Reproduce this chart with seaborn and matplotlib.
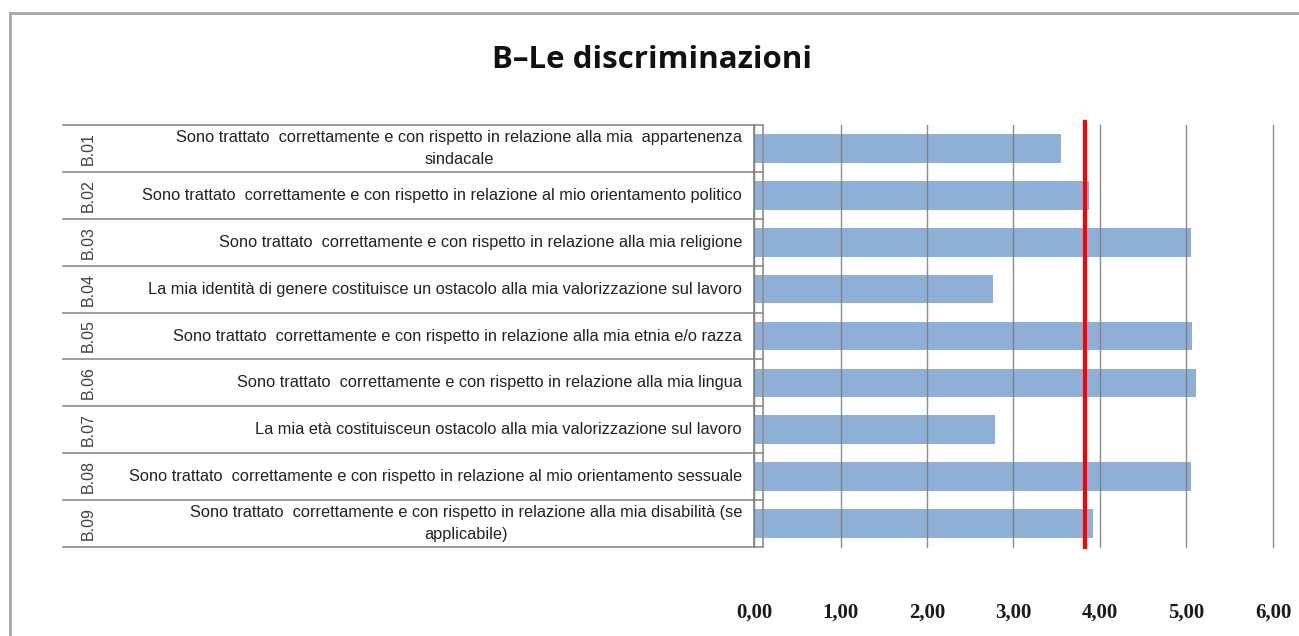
import matplotlib
matplotlib.use("Agg")
import matplotlib.pyplot as plt
import matplotlib.transforms as mtransforms
from matplotlib.lines import Line2D
import pandas as pd
import seaborn as sns

# ---- data -------------------------------------------------------------
codes = ["B.01", "B.02", "B.03", "B.04", "B.05", "B.06", "B.07", "B.08", "B.09"]
items = [
    "Sono trattato  correttamente e con rispetto in relazione alla mia  appartenenza\nsindacale",
    "Sono trattato  correttamente e con rispetto in relazione al mio orientamento politico",
    "Sono trattato  correttamente e con rispetto in relazione alla mia religione",
    "La mia identità di genere costituisce un ostacolo alla mia valorizzazione sul lavoro",
    "Sono trattato  correttamente e con rispetto in relazione alla mia etnia e/o razza",
    "Sono trattato  correttamente e con rispetto in relazione alla mia lingua",
    "La mia età costituisceun ostacolo alla mia valorizzazione sul lavoro",
    "Sono trattato  correttamente e con rispetto in relazione al mio orientamento sessuale",
    "Sono trattato  correttamente e con rispetto in relazione alla mia disabilità (se\napplicabile)",
]
scores = [3.55, 3.87, 5.05, 2.76, 5.06, 5.11, 2.79, 5.05, 3.92]
reference_value = 3.83
x_ticks = [0, 1, 2, 3, 4, 5, 6]
x_tick_labels = ["0,00", "1,00", "2,00", "3,00", "4,00", "5,00", "6,00"]
title = "B\u2013Le discriminazioni"

df = pd.DataFrame({"code": codes, "item": items, "score": scores})

# ---- figure -----------------------------------------------------------
W, H = 1299, 636
fig = plt.figure(figsize=(W / 100, H / 100), dpi=100)
fig.patch.set_facecolor("white")

ax_left, ax_right, ax_top, ax_bottom = 754, 1273, 125, 547
ax = fig.add_axes([ax_left / W, (H - ax_bottom) / H,
                   (ax_right - ax_left) / W, (ax_bottom - ax_top) / H])

sns.barplot(data=df, x="score", y="code", orient="h", color="#8FB0D6",
            saturation=1, width=0.61, ax=ax)

ax.set_xlim(0, 6)
ax.set_ylim(len(codes) - 0.5, -0.5)
ax.set_xlabel("")
ax.set_ylabel("")

# vertical gridlines drawn over the bars
ax.set_axisbelow(False)
ax.grid(axis="x", color="#7a7a7a", linewidth=1.0, alpha=0.85)
ax.grid(axis="y", visible=False)

ax.set_xticks(x_ticks)
ax.set_xticklabels(x_tick_labels, fontsize=15, fontweight="bold",
                   family=["Liberation Serif", "DejaVu Serif"], color="#1a1a1a")
ax.tick_params(axis="x", length=0, pad=40)
ax.set_yticks([])
for gl in ax.get_xgridlines():
    gl.set_clip_on(False)

for side in ("top", "right", "bottom"):
    ax.spines[side].set_visible(False)
ax.spines["left"].set_color("#8c8c8c")
ax.spines["left"].set_linewidth(1.2)

# reference line
ax.axvline(reference_value, ymin=0, ymax=1.007, color="#FF0000",
           linewidth=3.0, zorder=6, clip_on=False)

# ---- category table on the left ---------------------------------------
ax_w = ax_right - ax_left
tbl_left = (63 - ax_left) / ax_w
tbl_right = (763 - ax_left) / ax_w
text_right = (742 - ax_left) / ax_w
code_x = (88 - ax_left) / ax_w

blend = mtransforms.blended_transform_factory(ax.transAxes, ax.transData)
line_kw = dict(color="#8c8c8c", linewidth=1.2, transform=blend, clip_on=False)

for i in range(len(codes) + 1):
    yb = i - 0.5
    ax.plot([tbl_left, tbl_right], [yb, yb], **line_kw)
ax.plot([tbl_right, tbl_right], [-0.5, len(codes) - 0.5], **line_kw)

for i, (code, item) in enumerate(zip(df["code"], df["item"])):
    ax.text(text_right, i, item, transform=blend, ha="right", va="center",
            multialignment="center", fontsize=11.8, color="#222222",
            family=["Liberation Sans", "DejaVu Sans"], linespacing=1.55)
    ax.text(code_x, i, code, transform=blend, ha="center", va="center",
            rotation=90, fontsize=11.5, color="#404040",
            family=["Liberation Sans", "DejaVu Sans"])

# ---- title and chart frame --------------------------------------------
fig.text(652 / W, 1 - 60 / H, title, ha="center", va="center",
         fontsize=22.5, fontweight="bold", family=["Open Sans", "DejaVu Sans"],
         color="#111111")

frame_kw = dict(color="#a6a6a6", linewidth=2.0, transform=fig.transFigure)
fig.add_artist(Line2D([10 / W, 10 / W], [0, 1 - 13 / H], **frame_kw))
fig.add_artist(Line2D([10 / W, 1], [1 - 13 / H, 1 - 13 / H], **frame_kw))

fig.savefig("out.png", dpi=100, facecolor="white")
